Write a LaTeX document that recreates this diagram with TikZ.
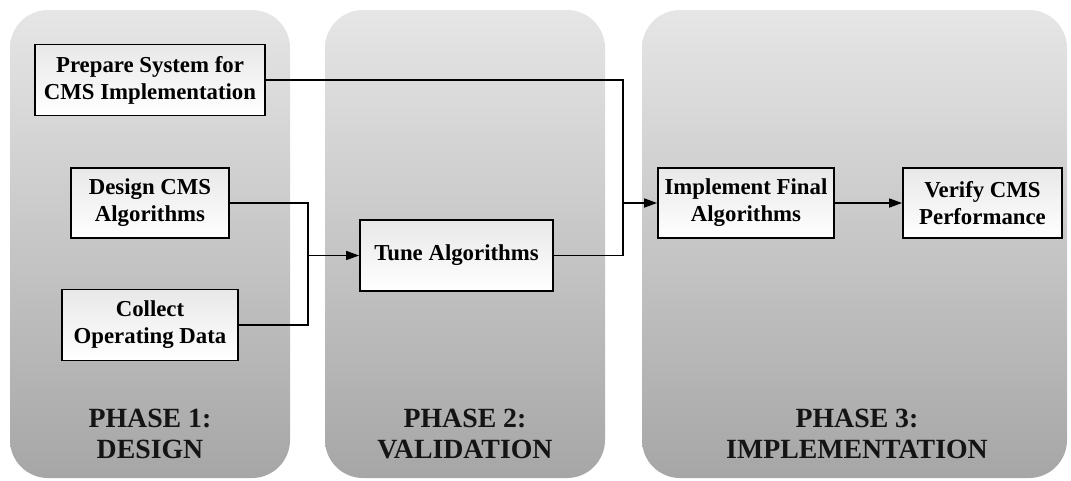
\documentclass[tikz,border=0pt]{standalone}
\usepackage{fontspec}
\setmainfont{Liberation Serif}
\usetikzlibrary{arrows.meta,calc}
\definecolor{paneltop}{RGB}{230,230,230}
\definecolor{panelbot}{RGB}{166,166,166}
\definecolor{boxtop}{RGB}{232,232,232}
\tikzset{
  panel/.style={top color=paneltop, bottom color=panelbot, rounded corners=38pt, draw=none},
  stepbox/.style={draw=black, line width=1.8pt, top color=boxtop, bottom color=white,
    align=center, font=\fontsize{22.8}{27}\selectfont\bfseries, inner sep=0pt},
  phaselabel/.style={align=center, font=\fontsize{27.8}{31.5}\selectfont\bfseries, text=black!92},
  conn/.style={line width=1.6pt, draw=black},
  arr/.style={conn, -{Triangle[length=13pt,width=9pt]}}
}
\begin{document}
\begin{tikzpicture}[x=1pt,y=-1pt]
\useasboundingbox (0,0) rectangle (1071,480);
% panels
\shade[panel] (10,10) rectangle (290,478);
\shade[panel] (325,10) rectangle (605,478);
\shade[panel] (642,10) rectangle (1067,478);
% phase labels
\node[phaselabel] (p1) at (150,434) {PHASE 1:\\DESIGN};
\node[phaselabel] (p2) at (465,434) {PHASE 2:\\VALIDATION};
\node[phaselabel] (p3) at (857,434) {PHASE 3:\\IMPLEMENTATION};
% boxes
\node[stepbox, minimum width=230pt, minimum height=71pt] (prep) at (150,80) {Prepare System for\\CMS Implementation};
\node[stepbox, minimum width=158pt, minimum height=70pt] (design) at (150,203) {Design CMS\\Algorithms};
\node[stepbox, minimum width=176pt, minimum height=71pt] (collect) at (150,325) {Collect\\Operating Data};
\node[stepbox, minimum width=193pt, minimum height=71pt] (tune) at (456.5,255.5) {Tune Algorithms};
\node[stepbox, minimum width=176pt, minimum height=70pt] (impl) at (746,203) {Implement Final\\Algorithms};
\node[stepbox, minimum width=159pt, minimum height=70pt] (verify) at (982.5,203) {Verify CMS\\Performance};
% junction coordinates
\coordinate (j1) at (308,255.5);
\coordinate (j2) at (623,203);
% connectors
\draw[conn] (design.east) -| (j1) |- (collect.east);
\draw[arr] (j1) -- (tune.west);
\draw[conn] (prep.east) -| (j2) |- (tune.east);
\draw[arr] (j2) -- (impl.west);
\draw[arr] (impl.east) -- (verify.west);
\end{tikzpicture}
\end{document}
